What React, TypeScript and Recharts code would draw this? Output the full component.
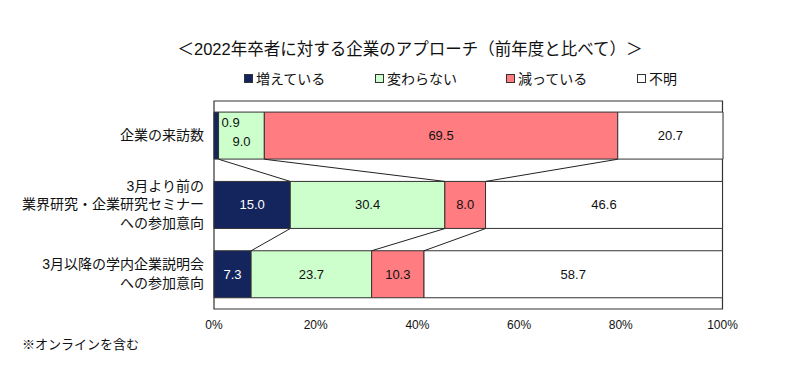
import { BarChart, Bar, XAxis, YAxis, LabelList, ReferenceLine, ReferenceArea } from "recharts";

const categories = ["企業の来訪数", "3月より前の\n業界研究・企業研究セミナー\nへの参加意向", "3月以降の学内企業説明会\nへの参加意向"];
const seriesNames = ["増えている", "変わらない", "減っている", "不明"];
const increased = [0.9, 15.0, 7.3];
const unchanged = [9.0, 30.4, 23.7];
const decreased = [69.5, 8.0, 10.3];
const unknown = [20.7, 46.6, 58.7];
const xTicks = [0, 20, 40, 60, 80, 100];

const colors = ["#14245c", "#ccffcc", "#ff7c80", "#ffffff"];
const keys = ["inc", "same", "dec", "unk"];
const font = '"Liberation Sans", "Noto Sans CJK JP", sans-serif';
const GAP = 0.16;

const data = categories.map((name, i) => ({
  name,
  inc: increased[i],
  same: unchanged[i],
  dec: decreased[i],
  unk: unknown[i],
}));

// cumulative boundaries after series 1..3 for connector lines
const cum = data.map((d) => [d.inc, d.inc + d.same, d.inc + d.same + d.dec]);
const segments: { x1: number; x2: number; y1: string; y2: string }[] = [];
for (let r = 0; r < data.length - 1; r++) {
  for (let k = 0; k < 3; k++) {
    segments.push({ x1: cum[r][k], x2: cum[r + 1][k], y1: data[r].name, y2: data[r + 1].name });
  }
}

const ConnectorShape = (p: any) => {
  const band = p.y2 - p.y1;
  const half = (band * (1 - 2 * GAP)) / 2;
  return <line x1={p.x1} y1={p.y1 + half} x2={p.x2} y2={p.y2 - half} stroke="#222" strokeWidth={1} />;
};

const CategoryTick = ({ x, y, payload }: any) => {
  const lines = String(payload.value).split("\n");
  const lh = 18.5;
  const start = y - ((lines.length - 1) * lh) / 2;
  return (
    <text x={x} y={start} textAnchor="end" fontSize={14} fill="#111" fontFamily={font} dominantBaseline="middle">
      {lines.map((l, i) => (
        <tspan key={i} x={x} y={start + i * lh}>
          {l}
        </tspan>
      ))}
    </text>
  );
};

const makeLabel = (series: number) => (p: any) => {
  const { x, y, width, height, value, index } = p;
  let tx = x + width / 2;
  let ty = y + height / 2;
  let anchor = "middle";
  let fill = series === 0 ? "#ffffff" : "#111";
  if (series === 0 && width < 15) {
    tx = x + width + 3;
    ty = y + 10;
    anchor = "start";
    fill = "#111";
  }
  if (series === 1 && increased[index] < 3) {
    ty += 6;
  }
  return (
    <text x={tx} y={ty} textAnchor={anchor} dominantBaseline="central" fontSize={13} fontFamily={font} fill={fill}>
      {Number(value).toFixed(1)}
    </text>
  );
};

export default function App() {
  return (
    <div style={{ position: "absolute", left: 0, top: 0, width: 800, height: 366, background: "#fff", fontFamily: font }}>
      <div style={{ position: "absolute", top: 36, left: 0, width: 820, textAlign: "center", fontSize: 16.5, color: "#111" }}>
        ＜2022年卒者に対する企業のアプローチ（前年度と比べて）＞
      </div>
      <div style={{ position: "absolute", top: 68, left: 244, display: "flex", fontSize: 14, color: "#111" }}>
        {seriesNames.map((n, i) => (
          <div key={n} style={{ width: 131, display: "flex", alignItems: "center" }}>
            <span
              style={{
                display: "inline-block",
                width: 7,
                height: 7,
                background: colors[i],
                border: "1px solid #333",
                marginRight: 3,
              }}
            />
            {n}
          </div>
        ))}
      </div>
      <div style={{ position: "absolute", top: 334, left: 22, fontSize: 13, color: "#111" }}>※オンラインを含む</div>
      <BarChart
        width={800}
        height={366}
        data={data}
        layout="vertical"
        barCategoryGap={`${GAP * 100}%`}
        margin={{ top: 101, right: 77, left: 0, bottom: 27 }}
      >
        <XAxis
          type="number"
          domain={[0, 100]}
          ticks={xTicks}
          tickFormatter={(v) => `${v}%`}
          axisLine={false}
          tickLine={false}
          tickMargin={5}
          height={30}
          tick={{ fontSize: 12, fill: "#111", fontFamily: font }}
        />
        <YAxis
          type="category"
          dataKey="name"
          width={214}
          axisLine={false}
          tickLine={false}
          tickMargin={4}
          tick={<CategoryTick />}
        />
        <ReferenceArea x1={0} x2={100} fill="none" stroke="#333" strokeWidth={1.2} ifOverflow="visible" />
        {keys.map((k, i) => (
          <Bar key={k} dataKey={k} name={seriesNames[i]} stackId="a" fill={colors[i]} stroke="#333" strokeWidth={1} isAnimationActive={false}>
            <LabelList dataKey={k} content={makeLabel(i)} />
          </Bar>
        ))}
        {segments.map((s, i) => (
          <ReferenceLine
            key={i}
            segment={[
              { x: s.x1, y: s.y1 },
              { x: s.x2, y: s.y2 },
            ]}
            ifOverflow="visible"
            shape={ConnectorShape}
          />
        ))}
      </BarChart>
    </div>
  );
}
